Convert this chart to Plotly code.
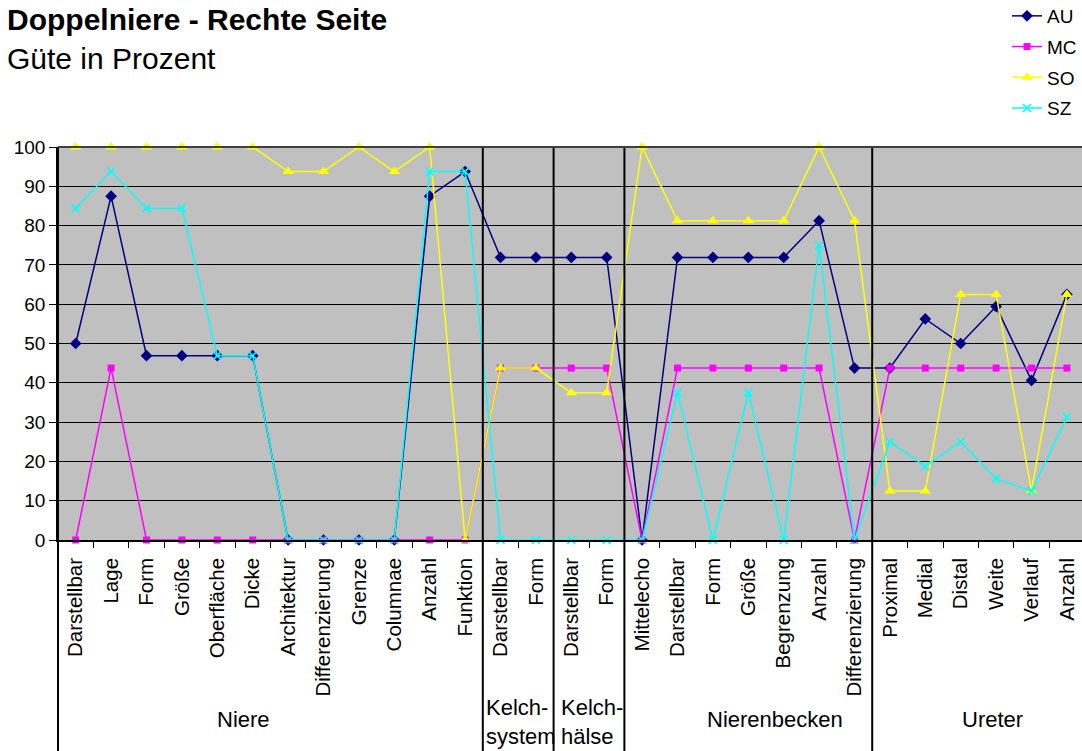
import plotly.graph_objects as go

# Category labels along the x axis, grouped by anatomical region
categories = [
    "Darstellbar", "Lage", "Form", "Größe", "Oberfläche", "Dicke", "Architektur",
    "Differenzierung", "Grenze", "Columnae", "Anzahl", "Funktion",
    "Darstellbar", "Form",
    "Darstellbar", "Form",
    "Mittelecho", "Darstellbar", "Form", "Größe", "Begrenzung", "Anzahl", "Differenzierung",
    "Proximal", "Medial", "Distal", "Weite", "Verlauf", "Anzahl",
]
group_names = ["Niere", "Kelch-<br>system", "Kelch-<br>hälse", "Nierenbecken", "Ureter"]
group_sizes = [12, 2, 2, 7, 6]

# Quality scores (percent) per examiner
au = [50, 87.5, 46.9, 46.9, 46.9, 46.9, 0, 0, 0, 0, 87.5, 93.75,
      71.9, 71.9,
      71.9, 71.9,
      0, 71.9, 71.9, 71.9, 71.9, 81.25, 43.75,
      43.75, 56.25, 50, 59.4, 40.6, 62.5]
mc = [0, 43.75, 0, 0, 0, 0, 0, 0, 0, 0, 0, 0,
      43.75, 43.75,
      43.75, 43.75,
      0, 43.75, 43.75, 43.75, 43.75, 43.75, 0,
      43.75, 43.75, 43.75, 43.75, 43.75, 43.75]
so = [100, 100, 100, 100, 100, 100, 93.75, 93.75, 100, 93.75, 100, 0,
      43.75, 43.75,
      37.5, 37.5,
      100, 81.25, 81.25, 81.25, 81.25, 100, 81.25,
      12.5, 12.5, 62.5, 62.5, 12.5, 62.5]
sz = [84.4, 93.75, 84.4, 84.4, 46.9, 46.9, 0, 0, 0, 0, 93.75, 93.75,
      0, 0,
      0, 0,
      0, 37.5, 0, 37.5, 0, 75, 0,
      25, 18.75, 25, 15.6, 12.5, 31.25]

y_ticks = list(range(0, 101, 10))

series = [
    ("AU", au, "#000080", "diamond", 9),
    ("MC", mc, "#FF00FF", "square", 7),
    ("SO", so, "#FFFF00", "triangle-up", 10),
    ("SZ", sz, "#00FFFF", "x-thin", 8),
]

W, H = 1082, 751
ML, MR, MT, MB = 58, 0, 147, 211
plot_w = W - ML - MR
plot_h = H - MT - MB
cat_w = 35.4
x_lo = -0.5
x_hi = x_lo + plot_w / cat_w

xs = list(range(len(categories)))

fig = go.Figure()
for name, vals, color, sym, size in series:
    marker = dict(symbol=sym, size=size, color=color)
    if sym == "x-thin":
        marker["line"] = dict(color=color, width=1.6)
    fig.add_trace(go.Scatter(
        x=xs, y=vals, name=name, mode="lines+markers",
        line=dict(color=color, width=1.5),
        marker=marker, cliponaxis=False, legendgroup=name,
    ))


def px_to_paper_x(px):
    return (px - ML) / plot_w


def px_to_paper_y(py):
    return (MT + plot_h - py) / plot_h


font = "Liberation Sans, Arial, sans-serif"

# Region separators: vertical lines through plot and label area
shapes = []
bottom_y = px_to_paper_y(H + 2)
edges = [0]
acc = 0
for s in group_sizes[:-1]:
    acc += s
    edges.append(acc)
for e in edges:
    xp = e / (x_hi - x_lo)
    shapes.append(dict(type="line", xref="paper", yref="paper", x0=xp, x1=xp,
                       y0=bottom_y, y1=1, line=dict(color="black", width=2),
                       layer="above"))
# top border of plot area
shapes.append(dict(type="line", xref="paper", yref="paper", x0=0, x1=1, y0=1, y1=1,
                   line=dict(color="#404040", width=2), layer="above"))

annotations = [
    dict(text="<b>Doppelniere - Rechte Seite</b>", xref="paper", yref="paper",
         x=px_to_paper_x(5), y=px_to_paper_y(20), xanchor="left", yanchor="middle",
         showarrow=False, font=dict(family=font, size=30, color="black")),
    dict(text="Güte in Prozent", xref="paper", yref="paper",
         x=px_to_paper_x(5), y=px_to_paper_y(58), xanchor="left", yanchor="middle",
         showarrow=False, font=dict(family=font, size=30, color="black")),
]

# Region labels below the category labels
group_label_pos = [(243, "center"), (484, "left"), (559, "left"), (775, "center"), (992, "center")]
for gname, (gx, anchor) in zip(group_names, group_label_pos):
    two_line = "<br>" in gname
    annotations.append(dict(
        text=gname, xref="paper", yref="paper",
        x=px_to_paper_x(gx), y=px_to_paper_y(722 if two_line else 719),
        xanchor=anchor, yanchor="middle", align="left", showarrow=False,
        font=dict(family=font, size=22, color="black"),
    ))

fig.update_layout(
    width=W, height=H, autosize=False,
    margin=dict(l=ML, r=MR, t=MT, b=MB, autoexpand=False),
    paper_bgcolor="white", plot_bgcolor="#C0C0C0",
    showlegend=True,
    legend=dict(x=1, y=px_to_paper_y(-3), xanchor="right", yanchor="top",
                font=dict(family=font, size=19, color="black"),
                bgcolor="rgba(0,0,0,0)", tracegroupgap=3, itemwidth=30),
    shapes=shapes, annotations=annotations,
    font=dict(family=font, color="black"),
)

fig.update_xaxes(
    range=[x_lo, x_hi], tickmode="array", tickvals=xs, ticktext=categories,
    tickangle=-90, ticks="", ticklabelstandoff=8,
    tickfont=dict(family=font, size=20.5, color="black"),
    showgrid=False, zeroline=False, showline=True, linecolor="black", linewidth=1.5,
    minor=dict(tickmode="array", tickvals=[k + 0.5 for k in range(-1, len(categories))],
               ticks="outside", ticklen=6, tickcolor="black", tickwidth=1, showgrid=False),
)
fig.update_yaxes(
    range=[0, 100], tickmode="array", tickvals=y_ticks,
    ticks="outside", ticklen=7, tickcolor="black", tickwidth=1.2,
    tickfont=dict(family=font, size=19, color="black"),
    showgrid=True, gridcolor="black", gridwidth=1.3, zeroline=False,
    showline=True, linecolor="black", linewidth=1.5,
)

fig.write_html("out.html")
